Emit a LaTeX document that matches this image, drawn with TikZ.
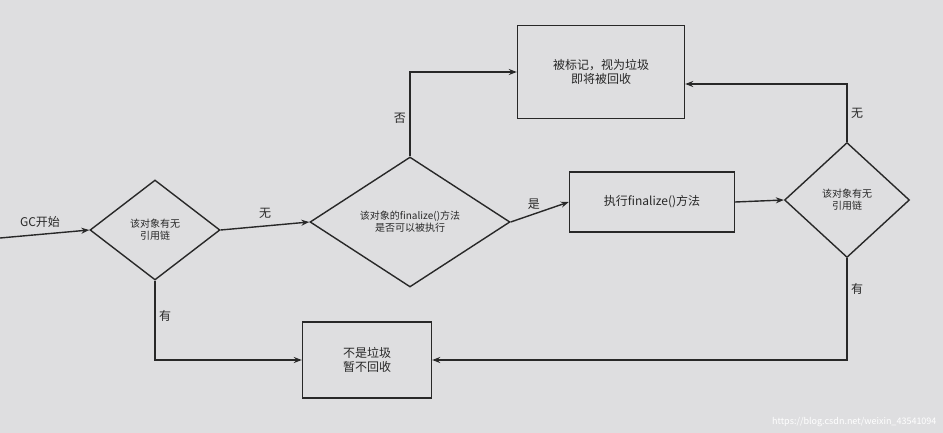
\documentclass[tikz,border=0pt]{standalone}
\usepackage{fontspec}
\setmainfont{Noto Sans CJK SC}
\usetikzlibrary{shapes.geometric,arrows.meta}
\definecolor{paper}{RGB}{222,222,224}
\definecolor{ink}{RGB}{40,40,40}
\begin{document}
\begin{tikzpicture}[x=1pt,y=-1pt,
  line/.style={draw=ink,line width=1.4pt},
  arr/.style={line,-{Stealth[length=8pt]}},
  dia/.style={diamond,line,aspect=1.3,inner sep=0pt,align=center,font=\normalsize,text=ink},
  box/.style={rectangle,line,align=center,font=\large,text=ink},
  lab/.style={font=\large,text=ink}]
\fill[paper] (0,0) rectangle (943,433);
\useasboundingbox (0,0) rectangle (943,433);
\node[lab] (gc) at (40,222) {GC开始};
\coordinate (s) at (0,238);
\node[dia,minimum width=130pt,minimum height=100pt] (d1) at (155,230) {该对象有无\\引用链};
\node[dia,minimum width=200pt,minimum height=130pt] (d2) at (410,222) {该对象的finalize()方法\\是否可以被执行};
\node[box,minimum width=165pt,minimum height=60pt] (ex) at (652,202) {执行finalize()方法};
\node[dia,minimum width=125pt,minimum height=115pt] (d3) at (847,200) {该对象有无\\引用链};
\node[box,minimum width=167pt,minimum height=93pt] (top) at (601,72) {被标记，视为垃圾\\即将被回收};
\node[box,minimum width=129pt,minimum height=76pt] (bot) at (367,360) {不是垃圾\\暂不回收};
\draw[arr] (s) -- (d1.west);
\draw[arr] (d1.east) -- node[lab,above,yshift=4pt] {无} (d2.west);
\draw[arr] (d2.east) -- node[lab,above,pos=0.4] {是} (ex.west);
\draw[arr] (ex.east) -- (d3.west);
\draw[arr] (d2.north) -- node[lab,left,pos=0.45] {否} (d2.north |- top.west) -- (top.west);
\draw[arr] (d3.north) -- node[lab,right,pos=0.5] {无} ([yshift=-12pt]d3.north |- top.east) -- ([yshift=-12pt]top.east);
\draw[arr] (d3.south) -- node[lab,right,pos=0.3] {有} (d3.south |- bot.east) -- (bot.east);
\draw[arr] (d1.south) -- node[lab,right,pos=0.45] {有} (d1.south |- bot.west) -- (bot.west);
\node[font=\small,text=white,anchor=south east] (wm) at (940,430) {https://blog.csdn.net/weixin\_43541094};
\end{tikzpicture}
\end{document}
